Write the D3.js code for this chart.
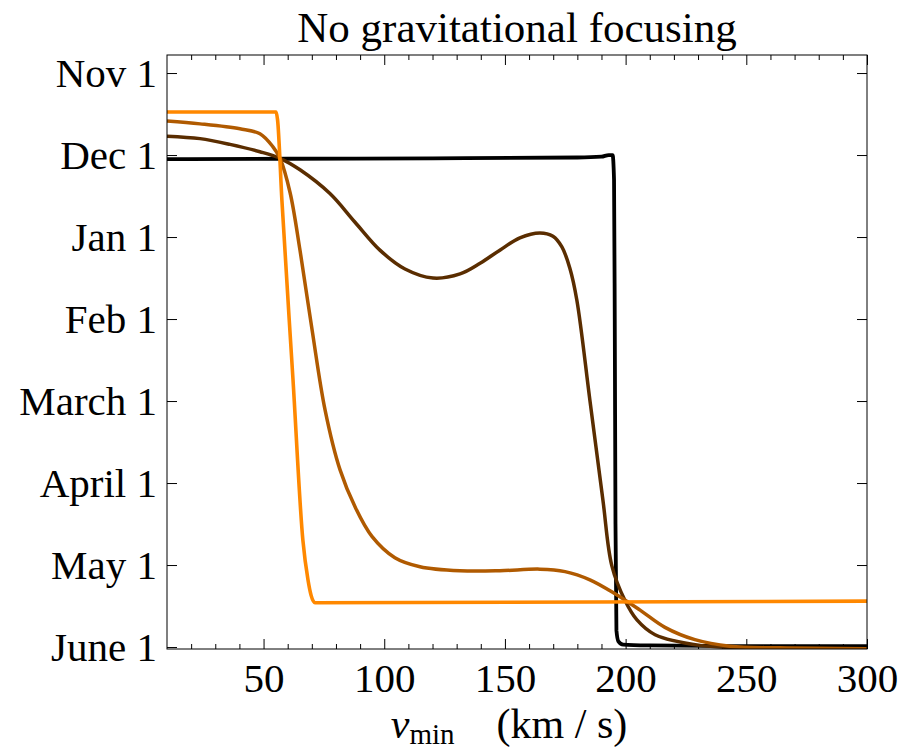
<!DOCTYPE html>
<html>
<head>
<meta charset="utf-8">
<script src="https://cdn.jsdelivr.net/npm/d3@7"></script>
<style>
  body { margin: 0; background: #fff; }
  svg text { font-family: "Liberation Serif", "DejaVu Serif", serif; fill: #000; }
</style>
</head>
<body>
<svg id="chart" width="918" height="755"></svg>
<script>
// month labels on the y axis, index 0 = Nov 1 (top) ... 7 = June 1 (bottom)
const monthLabels = ['Nov 1', 'Dec 1', 'Jan 1', 'Feb 1', 'March 1', 'April 1', 'May 1', 'June 1'];
const xMajor = [50, 100, 150, 200, 250, 300];
const xMinor = [20, 30, 40, 60, 70, 80, 90, 110, 120, 130, 140, 160, 170, 180, 190, 210, 220, 230, 240, 260, 270, 280, 290];

// curves: v_min (km/s) and month index
const blackV = [10, 60, 120, 180, 190, 193, 194.6, 195.2, 195.5, 195.8, 196.2, 197, 199, 210, 250, 300];
const blackM = [1.05, 1.045, 1.04, 1.03, 1.02, 1.0, 1.0, 1.3, 3.0, 5.5, 6.8, 6.93, 6.97, 6.98, 6.99, 6.99];

const darkV = [10, 23.7, 36.1, 48.5, 56.8, 65.1, 77.5, 87.9, 98.2, 108.6, 120.2, 131.4, 139.7, 147.9, 156.2, 164.5, 169.9, 173.6, 176.9, 179.8, 185.2, 190.6, 194.3, 199.7, 204.7, 212.2, 230.8, 251.5, 300];
const darkM = [0.77, 0.80, 0.87, 0.96, 1.04, 1.18, 1.47, 1.82, 2.16, 2.39, 2.50, 2.45, 2.32, 2.16, 2.01, 1.95, 1.99, 2.12, 2.38, 2.77, 3.99, 5.21, 6.01, 6.43, 6.67, 6.85, 6.98, 7.01, 7.02];

const midV = [10, 23.7, 40.2, 48.5, 53.9, 56.8, 61, 65.1, 70.1, 75.5, 81.7, 87.9, 94.9, 104.4, 114.8, 131.4, 147.9, 164.5, 174.9, 185.2, 195.6, 206, 216.3, 228.7, 243.2, 263.9, 300];
const midM = [0.585, 0.62, 0.68, 0.74, 0.90, 1.04, 1.46, 2.16, 3.13, 4.11, 4.84, 5.29, 5.65, 5.91, 6.02, 6.07, 6.07, 6.05, 6.08, 6.18, 6.35, 6.55, 6.76, 6.91, 6.99, 7.01, 7.02];

const orangeV = [10, 55.2, 55.8, 57.6, 62.2, 66.3, 68.4, 69.7, 71.3, 300];
const orangeM = [0.476, 0.476, 0.57, 1.55, 3.74, 5.70, 6.18, 6.37, 6.46, 6.44];

const seriesColors = ['#000000', '#5a2d00', '#b05a00', '#ff8800'];

const svg = d3.select('#chart');
const L = 167, R = 867, T = 55, B = 649;

const x = d3.scaleLinear().domain([10, 300]).range([L, R]);
const y = d3.scaleLinear().domain([-0.22, 7.024]).range([T, B]);

svg.append('clipPath').attr('id', 'clip')
  .append('rect').attr('x', L).attr('y', T).attr('width', R - L).attr('height', B - T);

// axes with inward ticks
function styleAxis(g){
  g.select('.domain').remove();
  g.selectAll('line').attr('stroke', '#000').attr('stroke-width', 1);
  g.selectAll('text').style('font-size', '41px');
}

svg.append('g').attr('transform', `translate(0,${B})`)
  .call(d3.axisBottom(x).tickValues(xMajor).tickSize(-10).tickPadding(14).tickFormat(d3.format('d')))
  .call(styleAxis);
svg.append('g').attr('transform', `translate(0,${B})`)
  .call(d3.axisBottom(x).tickValues(xMinor).tickSize(-5).tickFormat(''))
  .call(styleAxis);
svg.append('g').attr('transform', `translate(0,${T})`)
  .call(d3.axisTop(x).tickValues(xMajor).tickSize(-10).tickFormat(''))
  .call(styleAxis);
svg.append('g').attr('transform', `translate(0,${T})`)
  .call(d3.axisTop(x).tickValues(xMinor).tickSize(-5).tickFormat(''))
  .call(styleAxis);

const yTicks = d3.range(monthLabels.length);
svg.append('g').attr('transform', `translate(${L},0)`)
  .call(d3.axisLeft(y).tickValues(yTicks).tickSize(-10).tickPadding(10).tickFormat(i => monthLabels[i]))
  .call(styleAxis);
svg.append('g').attr('transform', `translate(${R},0)`)
  .call(d3.axisRight(y).tickValues(yTicks).tickSize(-10).tickFormat(''))
  .call(styleAxis);

// curves
const series = [
  { v: blackV, m: blackM, w: 3.8, curve: d3.curveMonotoneX },
  { v: darkV, m: darkM, w: 3.5, curve: d3.curveCatmullRom.alpha(0.5) },
  { v: midV, m: midM, w: 3.5, curve: d3.curveCatmullRom.alpha(0.5) },
  { v: orangeV, m: orangeM, w: 3.6, curve: d3.curveMonotoneX }
];
const plot = svg.append('g').attr('clip-path', 'url(#clip)');
series.forEach((s, i) => {
  const line = d3.line().x(d => x(d[0])).y(d => y(d[1])).curve(s.curve);
  plot.append('path')
    .datum(d3.zip(s.v, s.m))
    .attr('d', line)
    .attr('fill', 'none')
    .attr('stroke', seriesColors[i])
    .attr('stroke-width', s.w)
    .attr('stroke-linejoin', 'round');
});

// frame
svg.append('rect').attr('x', L).attr('y', T).attr('width', R - L).attr('height', B - T)
  .attr('fill', 'none').attr('stroke', '#000').attr('stroke-width', 1);

// title and axis label
svg.append('text').attr('x', (L + R) / 2).attr('y', 42)
  .attr('text-anchor', 'middle').style('font-size', '43px')
  .text('No gravitational focusing');

const xl = svg.append('text').attr('x', (L + R) / 2 - 8).attr('y', 738)
  .attr('text-anchor', 'middle').style('font-size', '42px');
xl.append('tspan').style('font-style', 'italic').text('v');
xl.append('tspan').attr('dy', 6).style('font-size', '29px').text('min');
xl.append('tspan').attr('dy', -6).text('\u2003(km / s)');
</script>
</body>
</html>
